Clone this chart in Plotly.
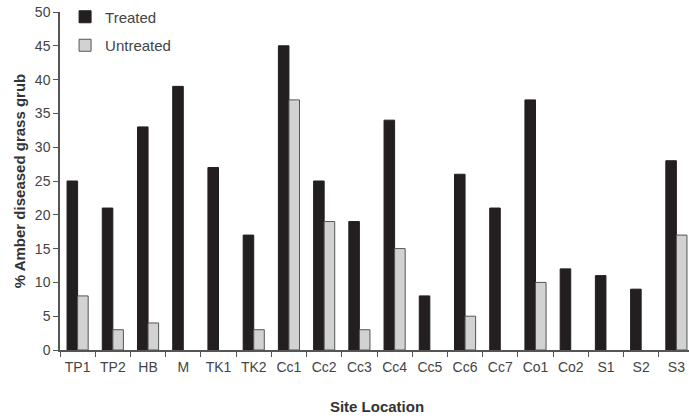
import plotly.graph_objects as go

sites = ["TP1", "TP2", "HB", "M", "TK1", "TK2", "Cc1", "Cc2", "Cc3", "Cc4", "Cc5",
         "Cc6", "Cc7", "Co1", "Co2", "S1", "S2", "S3"]
treated = [25, 21, 33, 39, 27, 17, 45, 25, 19, 34, 8, 26, 21, 37, 12, 11, 9, 28]
untreated = [8, 3, 4, 0, 0, 3, 37, 19, 3, 15, 0, 5, 0, 10, 0, 0, 0, 17]
y_ticks = [0, 5, 10, 15, 20, 25, 30, 35, 40, 45, 50]

fig = go.Figure()
fig.add_trace(go.Bar(x=sites, y=treated, name="Treated", legendgroup="t",
                     marker=dict(color="#231f20", line=dict(color="#231f20", width=1))))
fig.add_trace(go.Bar(x=sites, y=untreated, name="Untreated", legendgroup="u",
                     marker=dict(color="#d2d2d2",
                                 line=dict(color="#555555",
                                           width=[1 if v > 0 else 0 for v in untreated]))))

font_family = "Liberation Sans, Arial, sans-serif"
fig.update_layout(
    width=694, height=416,
    margin=dict(l=60, r=0, t=12, b=66),
    paper_bgcolor="white", plot_bgcolor="white",
    barmode="group", bargap=0.4, bargroupgap=0,
    font=dict(family=font_family, size=14, color="#444444"),
    showlegend=True,
    legend=dict(x=0.008, y=1.034, xanchor="left", yanchor="top",
                font=dict(size=15, color="#444444"), tracegroupgap=6,
                bgcolor="rgba(0,0,0,0)", itemwidth=30),
    xaxis=dict(
        automargin=False,
        showline=True, linecolor="#555555", linewidth=1.5,
        ticks="outside", ticklen=5, tickcolor="#555555", tickson="boundaries",
        tickfont=dict(size=14, color="#444444"), ticklabelstandoff=3,
        title=dict(text="<b>Site Location</b>", font=dict(size=15, color="#333333"), standoff=28),
        showgrid=False, zeroline=False,
    ),
    yaxis=dict(
        automargin=False,
        range=[0, 50], tickvals=y_ticks,
        showline=True, linecolor="#555555", linewidth=1.5,
        ticks="outside", ticklen=5, tickcolor="#555555",
        tickfont=dict(size=14, color="#444444"),
        title=dict(text="<b>% Amber diseased grass grub</b>", font=dict(size=15, color="#333333"), standoff=6),
        showgrid=False, zeroline=False,
    ),
)

fig.write_html("out.html", post_script="document.body.style.margin='0';",
               config={"displayModeBar": False})
